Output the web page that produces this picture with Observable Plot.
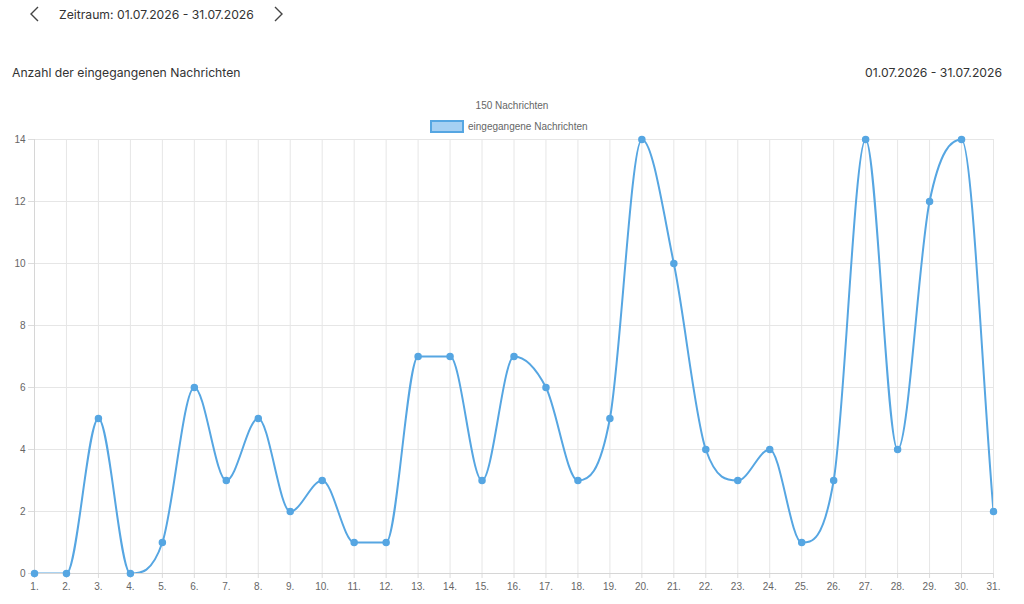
<!DOCTYPE html>
<html>
<head>
<meta charset="utf-8">
<script src="https://cdn.jsdelivr.net/npm/d3@7"></script>
<script src="https://cdn.jsdelivr.net/npm/@observablehq/plot@0.6"></script>
<style>
  html, body { margin: 0; padding: 0; background: #fff; }
  body { width: 1024px; height: 604px; position: relative; overflow: hidden; font-family: Inter, "Noto Sans", sans-serif; color: #333; }
  .nav { position: absolute; top: 5px; left: 28px; font-size: 12.2px; display: flex; align-items: center; }
  .title { position: absolute; top: 65px; left: 12px; font-size: 12.2px; color: #333; }
  .range { position: absolute; top: 65px; right: 22px; font-size: 12.2px; color: #333; }
  .legtitle { position: absolute; top: 100px; left: 0; width: 1024px; text-align: center; font-family: "Liberation Sans", Arial, sans-serif; font-size: 10px; color: #666; }
  .legend { position: absolute; top: 120px; left: 430px; display: flex; align-items: center; font-family: "Liberation Sans", Arial, sans-serif; font-size: 10px; color: #666; }
  .swatch { width: 30px; height: 9px; background: #a6d0f3; border: 2px solid #56a6e2; margin-right: 4px; }
  #chart { position: absolute; top: 130px; left: 0; }
</style>
</head>
<body>
<div class="nav"><svg width="14" height="18" viewBox="0 0 14 18"><path d="M10 2 L3 9 L10 16" fill="none" stroke="#444" stroke-width="1.4"/></svg><span style="margin-left:17px">Zeitraum: 01.07.2026 - 31.07.2026</span><svg style="margin-left:17px" width="14" height="18" viewBox="0 0 14 18"><path d="M4 2 L11 9 L4 16" fill="none" stroke="#444" stroke-width="1.4"/></svg></div>
<div class="title">Anzahl der eingegangenen Nachrichten</div>
<div class="range">01.07.2026 - 31.07.2026</div>
<div class="legtitle">150 Nachrichten</div>
<div class="legend"><div class="swatch"></div><span>eingegangene Nachrichten</span></div>
<div id="chart"></div>
<script>
const days = d3.range(1, 32);
const values = [0, 0, 5, 0, 1, 6, 3, 5, 2, 3, 1, 1, 7, 7, 3, 7, 6, 3, 5, 14, 10, 4, 3, 4, 1, 3, 14, 4, 12, 14, 2];
const yTicks = [0, 2, 4, 6, 8, 10, 12, 14];
const data = days.map((d, i) => ({day: d, value: values[i]}));
const color = "#56a6e2";

const W = 1024, H = 474, MT = 9, MB = 31, ML = 34, MR = 31;

// Monotone cubic curve in the style of Chart.js (Fritsch–Carlson), control points capped to the frame
function monotoneCurve(context) {
  let pts;
  return {
    areaStart() {}, areaEnd() {},
    lineStart() { pts = []; },
    point(x, y) { pts.push({x: +x, y: +y}); },
    lineEnd() {
      const n = pts.length;
      if (!n) return;
      const dK = [], mK = new Array(n).fill(0);
      for (let i = 0; i < n - 1; i++) dK.push((pts[i + 1].y - pts[i].y) / (pts[i + 1].x - pts[i].x));
      for (let i = 0; i < n; i++) {
        if (i === 0) mK[i] = dK[0] || 0;
        else if (i === n - 1) mK[i] = dK[n - 2] || 0;
        else if (dK[i - 1] === 0 || dK[i] === 0 || Math.sign(dK[i - 1]) !== Math.sign(dK[i])) mK[i] = 0;
        else mK[i] = (dK[i - 1] + dK[i]) / 2;
      }
      for (let i = 0; i < n - 1; i++) {
        if (Math.abs(dK[i]) < 1e-9) { mK[i] = mK[i + 1] = 0; continue; }
        const a = mK[i] / dK[i], b = mK[i + 1] / dK[i], sq = a * a + b * b;
        if (sq <= 9) continue;
        const tau = 3 / Math.sqrt(sq);
        mK[i] = a * tau * dK[i];
        mK[i + 1] = b * tau * dK[i];
      }
      const clampY = v => Math.max(MT, Math.min(H - MB, v));
      context.moveTo(pts[0].x, pts[0].y);
      for (let i = 1; i < n; i++) {
        const p0 = pts[i - 1], p1 = pts[i], dx = (p1.x - p0.x) / 3;
        context.bezierCurveTo(p0.x + dx, clampY(p0.y + mK[i - 1] * dx), p1.x - dx, clampY(p1.y - mK[i] * dx), p1.x, p1.y);
      }
    }
  };
}

const chart = Plot.plot({
  width: W,
  height: H,
  marginTop: MT,
  marginBottom: MB,
  marginLeft: ML,
  marginRight: MR,
  style: {fontFamily: "'Liberation Sans', Arial, sans-serif", fontSize: "10px", color: "#666", background: "transparent"},
  x: {domain: [1, 31], ticks: days, tickFormat: d => d + ".", label: null},
  y: {domain: [0, 14], ticks: yTicks, label: null},
  marks: [
    Plot.gridX(days, {stroke: "#e6e6e6", strokeOpacity: 1}),
    Plot.gridY(yTicks, {stroke: "#e6e6e6", strokeOpacity: 1}),
    Plot.axisX({ticks: days, tickFormat: d => d + ".", stroke: "#dcdcdc", tickSize: 5, tickPadding: 4, fill: "#666"}),
    Plot.axisY({ticks: yTicks, stroke: "#dcdcdc", tickSize: 6, tickPadding: 3, fill: "#666"}),
    Plot.ruleY([0], {stroke: "#d6d6d6"}),
    Plot.ruleX([1], {stroke: "#d6d6d6"}),
    Plot.line(data, {x: "day", y: "value", curve: monotoneCurve, stroke: color, strokeWidth: 2, clip: true}),
    Plot.dot(data, {x: "day", y: "value", r: 3, fill: color, stroke: color})
  ]
});
document.getElementById("chart").appendChild(chart);
</script>
</body>
</html>
